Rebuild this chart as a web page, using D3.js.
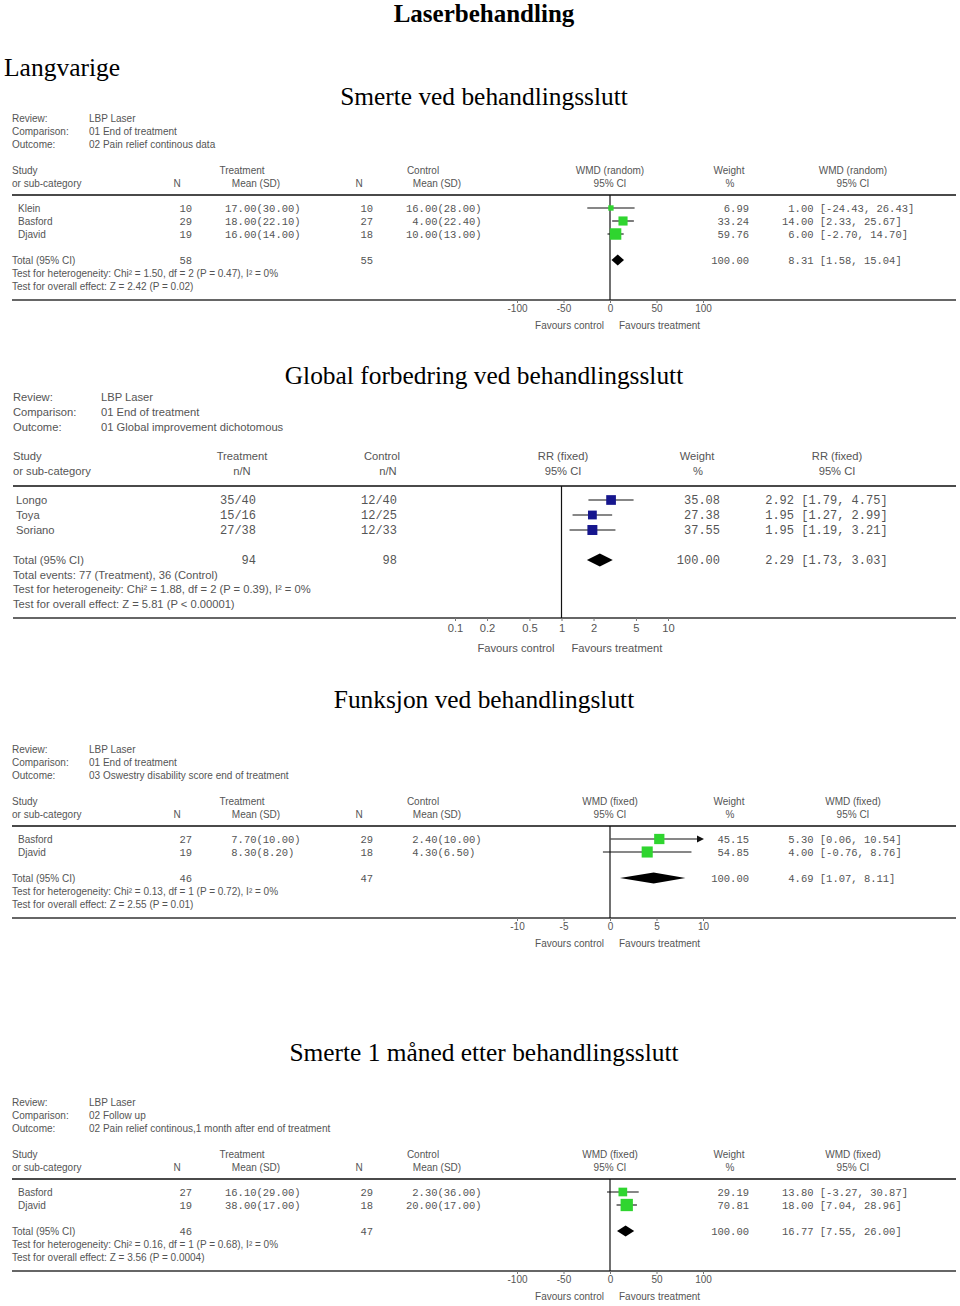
<!DOCTYPE html>
<html><head><meta charset="utf-8">
<script src="https://cdn.jsdelivr.net/npm/d3@7"></script>
<style>
body{margin:0;background:#fff;}
svg{display:block;}
.sans{font-family:"Liberation Sans",Arial,sans-serif;fill:#555;}
.mono{font-family:"Liberation Mono","Courier New",monospace;fill:#555;white-space:pre;}
.title{font-family:"Liberation Serif","Times New Roman",serif;fill:#000;}
</style></head><body>
<script>
// ---------- Text ----------
const titleMain = "Laserbehandling";
const sectionLabel = "Langvarige";
const panelTitles = ["Smerte ved behandlingsslutt", "Global forbedring ved behandlingsslutt", "Funksjon ved behandlingslutt", "Smerte 1 måned etter behandlingsslutt"];
const metaLabels = ["Review:", "Comparison:", "Outcome:"];

// ---------- Panel 1: pain, end of treatment ----------
const p1Meta = ["LBP Laser", "01 End of treatment", "02 Pain relief continous data"];
const p1Method = "WMD (random)";
const p1Studies = ["Klein", "Basford", "Djavid"];
const p1TreatN = [10, 29, 19];
const p1TreatMean = [17.00, 18.00, 16.00];
const p1TreatSD = [30.00, 22.10, 14.00];
const p1CtrlN = [10, 27, 18];
const p1CtrlMean = [16.00, 4.00, 10.00];
const p1CtrlSD = [28.00, 22.40, 13.00];
const p1Weight = [6.99, 33.24, 59.76];
const p1Est = [1.00, 14.00, 6.00];
const p1Lo = [-24.43, 2.33, -2.70];
const p1Hi = [26.43, 25.67, 14.70];
const p1Total = [8.31, 1.58, 15.04];
const p1TotalN = [58, 55];
const p1Stats = ["Test for heterogeneity: Chi² = 1.50, df = 2 (P = 0.47), I² = 0%", "Test for overall effect: Z = 2.42 (P = 0.02)"];
const p1Ticks = [-100, -50, 0, 50, 100];

// ---------- Panel 2: global improvement ----------
const p2Meta = ["LBP Laser", "01 End of treatment", "01 Global improvement dichotomous"];
const p2Method = "RR (fixed)";
const p2Studies = ["Longo", "Toya", "Soriano"];
const p2TreatEvents = [35, 15, 27];
const p2TreatTotal = [40, 16, 38];
const p2CtrlEvents = [12, 12, 12];
const p2CtrlTotal = [40, 25, 33];
const p2Weight = [35.08, 27.38, 37.55];
const p2Est = [2.92, 1.95, 1.95];
const p2Lo = [1.79, 1.27, 1.19];
const p2Hi = [4.75, 2.99, 3.21];
const p2Total = [2.29, 1.73, 3.03];
const p2TotalN = [94, 98];
const p2Stats = ["Total events: 77 (Treatment), 36 (Control)", "Test for heterogeneity: Chi² = 1.88, df = 2 (P = 0.39), I² = 0%", "Test for overall effect: Z = 5.81 (P < 0.00001)"];
const p2Ticks = [0.1, 0.2, 0.5, 1, 2, 5, 10];

// ---------- Panel 3: function ----------
const p3Meta = ["LBP Laser", "01 End of treatment", "03 Oswestry disability score end of treatment"];
const p3Method = "WMD (fixed)";
const p3Studies = ["Basford", "Djavid"];
const p3TreatN = [27, 19];
const p3TreatMean = [7.70, 8.30];
const p3TreatSD = [10.00, 8.20];
const p3CtrlN = [29, 18];
const p3CtrlMean = [2.40, 4.30];
const p3CtrlSD = [10.00, 6.50];
const p3Weight = [45.15, 54.85];
const p3Est = [5.30, 4.00];
const p3Lo = [0.06, -0.76];
const p3Hi = [10.54, 8.76];
const p3Total = [4.69, 1.07, 8.11];
const p3TotalN = [46, 47];
const p3Stats = ["Test for heterogeneity: Chi² = 0.13, df = 1 (P = 0.72), I² = 0%", "Test for overall effect: Z = 2.55 (P = 0.01)"];
const p3Ticks = [-10, -5, 0, 5, 10];

// ---------- Panel 4: pain 1 month after ----------
const p4Meta = ["LBP Laser", "02 Follow up", "02 Pain relief continous,1 month after end of treatment"];
const p4Method = "WMD (fixed)";
const p4Studies = ["Basford", "Djavid"];
const p4TreatN = [27, 19];
const p4TreatMean = [16.10, 38.00];
const p4TreatSD = [29.00, 17.00];
const p4CtrlN = [29, 18];
const p4CtrlMean = [2.30, 20.00];
const p4CtrlSD = [36.00, 17.00];
const p4Weight = [29.19, 70.81];
const p4Est = [13.80, 18.00];
const p4Lo = [-3.27, 7.04];
const p4Hi = [30.87, 28.96];
const p4Total = [16.77, 7.55, 26.00];
const p4TotalN = [46, 47];
const p4Stats = ["Test for heterogeneity: Chi² = 0.16, df = 1 (P = 0.68), I² = 0%", "Test for overall effect: Z = 3.56 (P = 0.0004)"];
const p4Ticks = [-100, -50, 0, 50, 100];

// ---------- Drawing ----------
const W = 960, H = 1306;
const svg = d3.select("body").append("svg").attr("width", W).attr("height", H);
svg.append("rect").attr("width", W).attr("height", H).attr("fill", "#fff");

const f2 = v => v.toFixed(2);

svg.append("text").attr("class", "title").attr("x", 484).attr("y", 22).attr("text-anchor", "middle")
  .style("font-size", "25px").style("font-weight", "bold").text(titleMain);
svg.append("text").attr("class", "title").attr("x", 4).attr("y", 76)
  .style("font-size", "25.5px").text(sectionLabel);
const titleY = [105, 384, 708, 1061];
panelTitles.forEach((t, i) => svg.append("text").attr("class", "title").attr("x", 484).attr("y", titleY[i])
  .attr("text-anchor", "middle").style("font-size", "25.4px").text(t));

function smallLayout(y0, nRows) {
  const row0 = y0 + 90, step = 13;
  const totalY = row0 + step * (nRows - 1) + 26;
  return {
    metaLX: 12, metaVX: 89, metaY: [y0, y0 + 13, y0 + 26],
    h1: y0 + 52, h2: y0 + 65, hdrLine: y0 + 77,
    row0, step, totalY, statStep: 13,
    labelX: 12, studyX: 18,
    tnX: 192, tmX: 225, cnX: 373, cmX: 406,
    tHdrX: 242, tnHdrX: 177, tmHdrX: 256, cHdrX: 423, cnHdrX: 359, cmHdrX: 437,
    mX: 610, wHdrX: 729, wX: 749, ciX: 782, m2X: 853,
    range: [517, 703], lineX: [12, 956],
    fs: 10, fm: 10.5, sqK: 1.2, sqB: 2.2, dH: 11,
    tickPad: 2, favDy: 25, favL: 6, favR: 9
  };
}
function bigLayout(y0, nRows) {
  const row0 = y0 + 103, step = 15;
  const totalY = row0 + step * (nRows - 1) + 30;
  return {
    metaLX: 13, metaVX: 101, metaY: [y0, y0 + 15, y0 + 30],
    h1: y0 + 59, h2: y0 + 74, hdrLine: y0 + 89,
    row0, step, totalY, statStep: 14.7,
    labelX: 13, studyX: 16,
    tnX: 256, cnX: 397,
    tHdrX: 242, cHdrX: 382, cnHdrX: 388,
    mX: 563, wHdrX: 697, wX: 720, ciX: 758, m2X: 837,
    range: [455, 668], lineX: [13, 956],
    fs: 11.2, fm: 12, sqK: 1.3, sqB: 2, dH: 13,
    tickPad: 3, favDy: 30, favL: 7, favR: 10
  };
}

function drawPanel(D, L) {
  const g = svg.append("g");
  const txt = (cls, size) => (x, y, t, anchor = "start") => g.append("text").attr("class", cls)
    .attr("x", x).attr("y", y).attr("dy", "0.35em").attr("text-anchor", anchor)
    .style("font-size", size + "px").text(t);
  const sans = txt("sans", L.fs), mono = txt("mono", L.fm);

  metaLabels.forEach((m, i) => { sans(L.metaLX, L.metaY[i], m); sans(L.metaVX, L.metaY[i], D.meta[i]); });

  sans(L.labelX, L.h1, "Study"); sans(L.labelX, L.h2, "or sub-category");
  sans(L.tHdrX, L.h1, "Treatment", "middle");
  sans(L.cHdrX, L.h1, "Control", "middle");
  if (D.type === "cont") {
    sans(L.tnHdrX, L.h2, "N", "middle"); sans(L.tmHdrX, L.h2, "Mean (SD)", "middle");
    sans(L.cnHdrX, L.h2, "N", "middle"); sans(L.cmHdrX, L.h2, "Mean (SD)", "middle");
  } else {
    sans(L.tHdrX, L.h2, "n/N", "middle"); sans(L.cnHdrX, L.h2, "n/N", "middle");
  }
  sans(L.mX, L.h1, D.method, "middle"); sans(L.mX, L.h2, "95% CI", "middle");
  sans(L.wHdrX, L.h1, "Weight", "middle"); sans(L.wHdrX + 1, L.h2, "%", "middle");
  sans(L.m2X, L.h1, D.method, "middle"); sans(L.m2X, L.h2, "95% CI", "middle");

  g.append("line").attr("x1", L.lineX[0]).attr("x2", L.lineX[1]).attr("y1", L.hdrLine).attr("y2", L.hdrLine)
    .attr("stroke", "#4a4a4a").attr("stroke-width", 2);

  const n = D.studies.length;
  const rowY = i => L.row0 + L.step * i;
  const ciStr = (e, lo, hi) => f2(e).padStart(5) + " [" + f2(lo) + ", " + f2(hi) + "]";

  D.studies.forEach((s, i) => {
    const y = rowY(i);
    sans(L.studyX, y, s);
    if (D.type === "cont") {
      mono(L.tnX, y, String(D.tN[i]), "end");
      mono(L.tmX - L.fm * 0.6, y, f2(D.tMean[i]).padStart(6) + "(" + f2(D.tSD[i]) + ")");
      mono(L.cnX, y, String(D.cN[i]), "end");
      mono(L.cmX - L.fm * 0.6, y, f2(D.cMean[i]).padStart(6) + "(" + f2(D.cSD[i]) + ")");
    } else {
      mono(L.tnX, y, D.tEv[i] + "/" + D.tTot[i], "end");
      mono(L.cnX, y, D.cEv[i] + "/" + D.cTot[i], "end");
    }
    mono(L.wX, y, f2(D.weight[i]), "end");
    mono(L.ciX, y, ciStr(D.est[i], D.lo[i], D.hi[i]));
  });

  const tY = L.totalY;
  sans(L.labelX, tY, "Total (95% CI)");
  mono(L.tnX, tY, String(D.totalN[0]), "end");
  mono(L.cnX, tY, String(D.totalN[1]), "end");
  mono(L.wX, tY, "100.00", "end");
  mono(L.ciX, tY, ciStr(D.total[0], D.total[1], D.total[2]));
  D.stats.forEach((s, j) => sans(L.labelX, tY + L.statStep * (j + 1), s));
  const axisY = Math.round(tY + L.statStep * D.stats.length + 14);

  // scale
  const x = D.log ? d3.scaleLog().domain(d3.extent(D.ticks)).range(L.range)
                  : d3.scaleLinear().domain(d3.extent(D.ticks)).range(L.range);
  const [dMin, dMax] = x.domain();
  const x0 = D.log ? x(1) : x(0);

  g.append("line").attr("x1", L.lineX[0]).attr("x2", L.lineX[1]).attr("y1", axisY).attr("y2", axisY)
    .attr("stroke", "#333").attr("stroke-width", 1.3);
  g.append("line").attr("x1", x0).attr("x2", x0).attr("y1", L.hdrLine).attr("y2", axisY)
    .attr("stroke", "#111").attr("stroke-width", 1.2);

  const ax = g.append("g").attr("transform", `translate(0,${axisY})`)
    .call(d3.axisBottom(x).tickValues(D.ticks).tickFormat(d => String(d)).tickSize(3).tickPadding(L.tickPad));
  ax.select(".domain").remove();
  ax.selectAll(".tick line").attr("stroke", "#777");
  ax.selectAll(".tick text").attr("class", "sans").attr("fill", "#555")
    .style("font-family", '"Liberation Sans",Arial,sans-serif').style("font-size", L.fs + "px");

  sans(x0 - L.favL, axisY + L.favDy, "Favours control", "end");
  sans(x0 + L.favR, axisY + L.favDy, "Favours treatment", "start");

  // CI lines and squares
  D.studies.forEach((s, i) => {
    const y = rowY(i);
    const lo = Math.max(D.lo[i], dMin), hi = Math.min(D.hi[i], dMax);
    const xa = x(lo), xb = x(hi);
    g.append("line").attr("x1", xa).attr("x2", D.hi[i] > dMax ? xb - 4 : xb).attr("y1", y).attr("y2", y)
      .attr("stroke", "#111").attr("stroke-width", 1.1);
    if (D.hi[i] > dMax) {
      g.append("path").attr("d", `M${xb + 1},${y} L${xb - 6},${y - 3.5} L${xb - 6},${y + 3.5} Z`).attr("fill", "#111");
    }
    const side = L.sqB + L.sqK * Math.sqrt(D.weight[i]);
    g.append("rect").attr("x", x(D.est[i]) - side / 2).attr("y", y - side / 2)
      .attr("width", side).attr("height", side).attr("fill", D.color);
  });

  const [te, tl, th] = D.total;
  const hh = L.dH / 2;
  g.append("path").attr("d", `M${x(tl)},${tY} L${x(te)},${tY - hh} L${x(th)},${tY} L${x(te)},${tY + hh} Z`)
    .attr("fill", "#000");
}

const green = "#2fd52f", navy = "#16168e";

drawPanel({ type: "cont", meta: p1Meta, method: p1Method, studies: p1Studies,
  tN: p1TreatN, tMean: p1TreatMean, tSD: p1TreatSD, cN: p1CtrlN, cMean: p1CtrlMean, cSD: p1CtrlSD,
  weight: p1Weight, est: p1Est, lo: p1Lo, hi: p1Hi, total: p1Total, totalN: p1TotalN,
  stats: p1Stats, ticks: p1Ticks, log: false, color: green }, smallLayout(118, p1Studies.length));

drawPanel({ type: "dich", meta: p2Meta, method: p2Method, studies: p2Studies,
  tEv: p2TreatEvents, tTot: p2TreatTotal, cEv: p2CtrlEvents, cTot: p2CtrlTotal,
  weight: p2Weight, est: p2Est, lo: p2Lo, hi: p2Hi, total: p2Total, totalN: p2TotalN,
  stats: p2Stats, ticks: p2Ticks, log: true, color: navy }, bigLayout(397, p2Studies.length));

drawPanel({ type: "cont", meta: p3Meta, method: p3Method, studies: p3Studies,
  tN: p3TreatN, tMean: p3TreatMean, tSD: p3TreatSD, cN: p3CtrlN, cMean: p3CtrlMean, cSD: p3CtrlSD,
  weight: p3Weight, est: p3Est, lo: p3Lo, hi: p3Hi, total: p3Total, totalN: p3TotalN,
  stats: p3Stats, ticks: p3Ticks, log: false, color: green }, smallLayout(749, p3Studies.length));

drawPanel({ type: "cont", meta: p4Meta, method: p4Method, studies: p4Studies,
  tN: p4TreatN, tMean: p4TreatMean, tSD: p4TreatSD, cN: p4CtrlN, cMean: p4CtrlMean, cSD: p4CtrlSD,
  weight: p4Weight, est: p4Est, lo: p4Lo, hi: p4Hi, total: p4Total, totalN: p4TotalN,
  stats: p4Stats, ticks: p4Ticks, log: false, color: green }, smallLayout(1102, p4Studies.length));
</script>
</body></html>
